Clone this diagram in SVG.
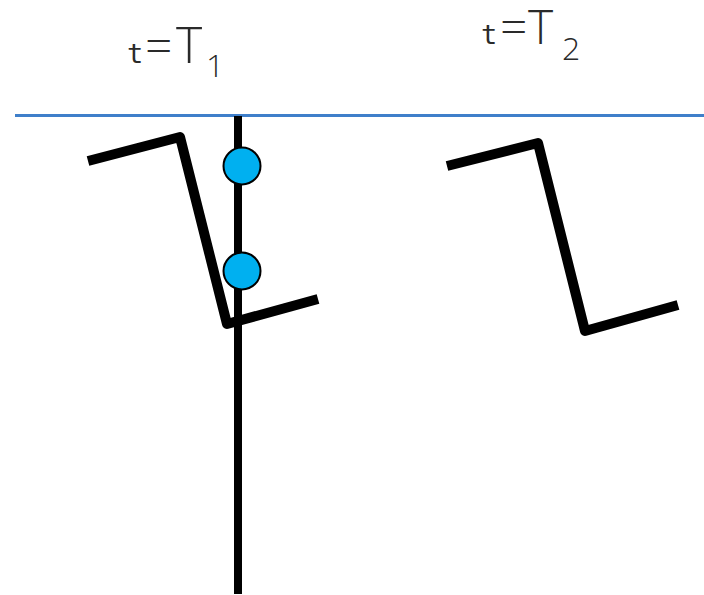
<svg xmlns="http://www.w3.org/2000/svg" width="704" height="595" viewBox="0 0 704 595">
<style>
.lbl{font-family:"Open Sans","Liberation Sans",sans-serif;font-weight:300;fill:#2a2a2a}
.sm{font-family:"DejaVu Sans Mono","Liberation Mono",monospace;font-weight:400;fill:#2a2a2a}
.z{fill:none;stroke:#000;stroke-width:10;stroke-linejoin:round;stroke-linecap:butt}
.dot{fill:#00b0f0;stroke:#000;stroke-width:2}
</style>
<rect width="704" height="595" fill="#fff"/>
<g id="label-t1">
<text class="sm" x="127" y="63" font-size="27">t</text>
<text class="lbl" x="145" y="63" font-size="48">=</text>
<text class="lbl" x="176" y="63" font-size="50">T</text>
<text class="lbl" x="206" y="77" font-size="32">1</text>
</g>
<g id="label-t2">
<text class="sm" x="481" y="44" font-size="27">t</text>
<text class="lbl" x="500" y="44" font-size="48">=</text>
<text class="lbl" x="528" y="44" font-size="48">T</text>
<text class="lbl" x="562" y="60" font-size="32">2</text>
</g>
<g id="connectors">
<line x1="15" y1="115.5" x2="704" y2="115.5" stroke="#3f7fca" stroke-width="3"/>
<line x1="238" y1="116" x2="238" y2="594" stroke="#000" stroke-width="8"/>
</g>
<g id="z1"><polyline class="z" points="88,161 180,137 227,324 318,299"/></g>
<g id="z2"><polyline class="z" points="447,166 538,143 585,331 678,305"/></g>
<g id="dot1"><circle class="dot" cx="242" cy="166" r="18.5"/></g>
<g id="dot2"><circle class="dot" cx="242" cy="271" r="18.5"/></g>
</svg>
